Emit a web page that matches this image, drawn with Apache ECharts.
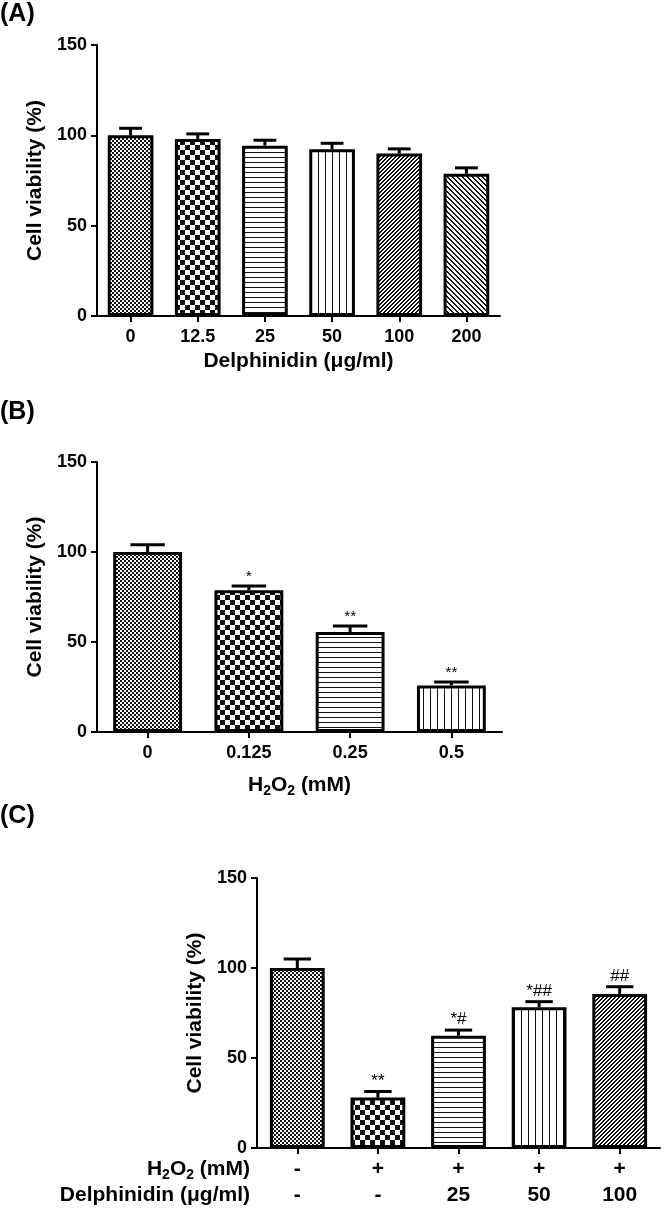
<!DOCTYPE html>
<html><head><meta charset="utf-8">
<script src="https://cdn.jsdelivr.net/npm/echarts@6/dist/echarts.min.js"></script>
<style>html,body{margin:0;padding:0;background:#fff}#c{width:666px;height:1209px}</style>
</head><body><div id="c"></div>
<script>
// ---------- data ----------
const yTicks = [0, 50, 100, 150];

const catsA = ['0', '12.5', '25', '50', '100', '200'];
const meanA = [100, 98, 94.3, 92.3, 89.9, 78.7];
const semA  = [3.9, 2.8, 3.0, 3.3, 2.6, 3.3];

const catsB  = ['0', '0.125', '0.25', '0.5'];
const meanB  = [100, 78.7, 55.6, 25.9];
const semB   = [4.0, 2.4, 3.3, 1.9];
const marksB = ['', '*', '**', '**'];

const h2o2C  = ['-', '+', '+', '+', '+'];
const delphC = ['-', '-', '25', '50', '100'];
const meanC  = [100, 28, 62.4, 78.2, 85.6];
const semC   = [5.0, 3.4, 3.1, 3.1, 4.0];
const marksC = ['', '**', '*#', '*##', '##'];

const patA = ['fine', 'checker', 'hline', 'vline', 'diagR', 'diagL'];
const patB = ['fine', 'checker', 'hline', 'vline'];
const patC = ['fine', 'checker', 'hline', 'vline', 'diagR'];

// ---------- styling helpers ----------
const FF = '"Liberation Sans", Arial, Helvetica, sans-serif';

function mk(w, h, draw) {
  const c = document.createElement('canvas');
  c.width = w; c.height = h;
  const g = c.getContext('2d');
  g.fillStyle = '#fff'; g.fillRect(0, 0, w, h);
  g.fillStyle = '#111';
  draw(g);
  return c;
}
const patterns = {
  fine: mk(4, 4, g => { g.fillRect(0, 0, 2, 2); g.fillRect(2, 2, 2, 2); }),
  checker: mk(10, 10, g => { g.fillRect(0, 0, 5, 5); g.fillRect(5, 5, 5, 5); }),
  hline: mk(5, 5, g => { g.fillRect(0, 2, 5, 1); }),
  vline: mk(7, 7, g => { g.fillRect(3, 0, 1, 7); }),
  diagR: mk(4, 4, g => { for (let i = 0; i < 4; i++) { g.fillRect(i, 3 - i, 1, 1); g.fillRect((i + 1) % 4, 3 - i, 1, 1); } }),
  diagL: mk(5, 5, g => { for (let i = 0; i < 5; i++) { g.fillRect(i, i, 1, 1); g.fillRect((i + 1) % 5, i, 1, 1); } })
};

const txt = { color: '#000', fontFamily: FF, fontWeight: 'bold' };

function yAxis(gi, gap) {
  return {
    type: 'value', gridIndex: gi,
    min: yTicks[0], max: yTicks[yTicks.length - 1], interval: yTicks[1] - yTicks[0],
    axisLine: { show: true, lineStyle: { color: '#000', width: 2 } },
    axisTick: { show: true, length: 6, lineStyle: { color: '#000', width: 2 } },
    axisLabel: Object.assign({ fontSize: 18, margin: 10 }, txt),
    splitLine: { show: false },
    name: 'Cell viability (%)', nameLocation: 'middle', nameGap: gap,
    nameTextStyle: Object.assign({ fontSize: 21 }, txt)
  };
}
function xAxis(gi, cats, extra) {
  return Object.assign({
    type: 'category', gridIndex: gi, data: cats,
    axisLine: { show: true, lineStyle: { color: '#000', width: 2 } },
    axisTick: { show: true, alignWithLabel: true, length: 6, lineStyle: { color: '#000', width: 2 } },
    axisLabel: Object.assign({ fontSize: 18, margin: 12, interval: 0 }, txt),
    splitLine: { show: false }
  }, extra || {});
}
function bars(gi, means, pats) {
  return {
    type: 'bar', xAxisIndex: gi, yAxisIndex: gi, barWidth: '68%', silent: true,
    data: means.map((v, i) => ({
      value: v,
      itemStyle: { color: { image: patterns[pats[i]], repeat: 'repeat' }, borderColor: '#000', borderWidth: 3 }
    }))
  };
}
function errs(gi, means, sems, marks, markSize) {
  return {
    type: 'custom', xAxisIndex: gi, yAxisIndex: gi, z: 10, silent: true,
    data: means.map((v, i) => [i, v, v + sems[i]]),
    encode: { x: 0, y: [1, 2] },
    renderItem(params, api) {
      const i = api.value(0);
      const b = api.coord([i, api.value(1)]);
      const t = api.coord([i, api.value(2)]);
      const bw = api.size([1, 0])[0] * 0.68;
      const h = bw / 4;
      const ch = [
        { type: 'line', shape: { x1: b[0], y1: b[1], x2: t[0], y2: t[1] }, style: { stroke: '#000', lineWidth: 3 } },
        { type: 'line', shape: { x1: t[0] - h, y1: t[1], x2: t[0] + h, y2: t[1] }, style: { stroke: '#000', lineWidth: 3 } }
      ];
      const m = marks && marks[params.dataIndex];
      if (m) ch.push({ type: 'text', x: t[0], y: t[1] - 2,
        style: { text: m, align: 'center', verticalAlign: 'bottom', font: 'normal ' + markSize + 'px ' + FF, fill: '#000' } });
      return { type: 'group', children: ch };
    }
  };
}

const h2o2Rich = {
  a: { fontSize: 21, fontWeight: 'bold', fontFamily: FF, color: '#000', lineHeight: 26 },
  s: { fontSize: 14, fontWeight: 'bold', fontFamily: FF, color: '#000', lineHeight: 14, verticalAlign: 'bottom' }
};
const h2o2Label = '{a|H}{s|2}{a|O}{s|2}{a| (mM)}';

const chart = echarts.init(document.getElementById('c'), null, { renderer: 'canvas' });
chart.setOption({
  animation: false,
  backgroundColor: '#fff',
  grid: [
    { left: 97, top: 45, width: 403, height: 271 },
    { left: 97, top: 462, width: 405, height: 270 },
    { left: 257, top: 878, width: 403, height: 270 }
  ],
  xAxis: [
    xAxis(0, catsA, { name: 'Delphinidin (μg/ml)', nameLocation: 'middle', nameGap: 35,
      nameTextStyle: Object.assign({ fontSize: 21 }, txt) }),
    xAxis(1, catsB, { name: h2o2Label, nameLocation: 'middle', nameGap: 40,
      nameTextStyle: Object.assign({ fontSize: 21, rich: h2o2Rich }, txt) }),
    xAxis(2, h2o2C.map((h, i) => h + '\n' + delphC[i]), {
      axisLabel: Object.assign({ fontSize: 21, margin: 8, interval: 0, lineHeight: 26 }, txt) })
  ],
  yAxis: [yAxis(0, 50), yAxis(1, 50), yAxis(2, 49)],
  series: [
    bars(0, meanA, patA), errs(0, meanA, semA, null, 15),
    bars(1, meanB, patB), errs(1, meanB, semB, marksB, 15),
    bars(2, meanC, patC), errs(2, meanC, semC, marksC, 17)
  ],
  graphic: [
    { type: 'text', x: 0, y: 14, style: { text: '(A)', font: 'bold 25px ' + FF, fill: '#000', verticalAlign: 'middle' } },
    { type: 'text', x: 0, y: 412, style: { text: '(B)', font: 'bold 25px ' + FF, fill: '#000', verticalAlign: 'middle' } },
    { type: 'text', x: 0, y: 816, style: { text: '(C)', font: 'bold 25px ' + FF, fill: '#000', verticalAlign: 'middle' } },
    { type: 'text', x: 250, y: 1169, style: { text: h2o2Label, rich: h2o2Rich, align: 'right', verticalAlign: 'middle' } },
    { type: 'text', x: 250, y: 1195, style: { text: 'Delphinidin (μg/ml)', font: 'bold 21px ' + FF, fill: '#000', align: 'right', verticalAlign: 'middle' } }
  ]
});
</script>
</body></html>
